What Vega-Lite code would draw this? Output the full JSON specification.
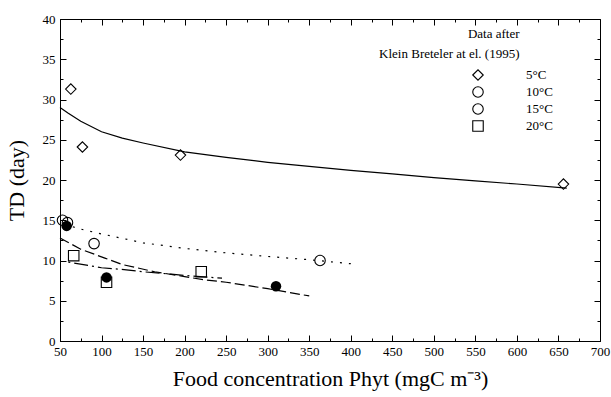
{
  "$schema": "https://vega.github.io/schema/vega-lite/v6.json",
  "width": 540,
  "height": 322,
  "autosize": {"type": "none"},
  "padding": {"left": 60, "top": 19, "right": 11, "bottom": 56},
  "background": "white",
  "config": {
    "view": {"stroke": "black", "strokeWidth": 1},
    "font": "Liberation Serif",
    "axis": {"grid": false, "labelFontSize": 13, "titleFontSize": 22, "titleFontWeight": "normal"}
  },
  "datasets": {
    "pts": [
      {"series": "5°C", "phyt": 63, "td": 31.3},
      {"series": "5°C", "phyt": 77, "td": 24.1},
      {"series": "5°C", "phyt": 195, "td": 23.1},
      {"series": "5°C", "phyt": 656, "td": 19.5},
      {"series": "15°C", "phyt": 53, "td": 15.0},
      {"series": "15°C", "phyt": 59, "td": 14.7},
      {"series": "15°C", "phyt": 91, "td": 12.1},
      {"series": "15°C", "phyt": 363, "td": 10.0},
      {"series": "20°C", "phyt": 66.5, "td": 10.6},
      {"series": "20°C", "phyt": 106, "td": 7.3},
      {"series": "20°C", "phyt": 220, "td": 8.6},
      {"series": "10°C", "phyt": 58, "td": 14.3},
      {"series": "10°C", "phyt": 106, "td": 7.9},
      {"series": "10°C", "phyt": 310, "td": 6.8}
    ],
    "lns": [
      {"series": "5°C", "phyt": 50, "td": 29.0},
      {"series": "5°C", "phyt": 60, "td": 28.3},
      {"series": "5°C", "phyt": 75, "td": 27.3},
      {"series": "5°C", "phyt": 100, "td": 26.0},
      {"series": "5°C", "phyt": 125, "td": 25.2},
      {"series": "5°C", "phyt": 150, "td": 24.6},
      {"series": "5°C", "phyt": 200, "td": 23.5},
      {"series": "5°C", "phyt": 250, "td": 22.8},
      {"series": "5°C", "phyt": 300, "td": 22.2},
      {"series": "5°C", "phyt": 350, "td": 21.7},
      {"series": "5°C", "phyt": 400, "td": 21.2},
      {"series": "5°C", "phyt": 450, "td": 20.75},
      {"series": "5°C", "phyt": 500, "td": 20.3},
      {"series": "5°C", "phyt": 550, "td": 19.9},
      {"series": "5°C", "phyt": 600, "td": 19.5},
      {"series": "5°C", "phyt": 660, "td": 19.0},
      {"series": "10°C", "phyt": 55, "td": 14.5},
      {"series": "10°C", "phyt": 75, "td": 13.9},
      {"series": "10°C", "phyt": 100, "td": 13.3},
      {"series": "10°C", "phyt": 150, "td": 12.2},
      {"series": "10°C", "phyt": 200, "td": 11.5},
      {"series": "10°C", "phyt": 250, "td": 10.95},
      {"series": "10°C", "phyt": 300, "td": 10.5},
      {"series": "10°C", "phyt": 350, "td": 10.1},
      {"series": "10°C", "phyt": 400, "td": 9.6},
      {"series": "15°C", "phyt": 50, "td": 12.8},
      {"series": "15°C", "phyt": 75, "td": 11.4},
      {"series": "15°C", "phyt": 104, "td": 10.3},
      {"series": "15°C", "phyt": 125, "td": 9.5},
      {"series": "15°C", "phyt": 164, "td": 8.6},
      {"series": "15°C", "phyt": 200, "td": 8.0},
      {"series": "15°C", "phyt": 224, "td": 7.6},
      {"series": "15°C", "phyt": 250, "td": 7.3},
      {"series": "15°C", "phyt": 300, "td": 6.5},
      {"series": "15°C", "phyt": 350, "td": 5.6},
      {"series": "20°C", "phyt": 60, "td": 9.8},
      {"series": "20°C", "phyt": 100, "td": 9.1},
      {"series": "20°C", "phyt": 124, "td": 8.9},
      {"series": "20°C", "phyt": 150, "td": 8.6},
      {"series": "20°C", "phyt": 184, "td": 8.3},
      {"series": "20°C", "phyt": 200, "td": 8.15},
      {"series": "20°C", "phyt": 245, "td": 7.8}
    ]
  },
  "layer": [
    {
      "data": {"name": "pts"},
      "transform": [{"filter": "datum.series != '10°C'"}],
      "mark": {"type": "point", "filled": false, "color": "black", "strokeWidth": 1.1, "size": 110, "opacity": 1},
      "encoding": {
        "x": {
          "field": "phyt", "type": "quantitative",
          "scale": {"domain": [50, 700], "nice": false, "zero": false},
          "axis": {"title": "Food concentration Phyt (mgC m⁻³)", "values": [50,100,150,200,250,300,350,400,450,500,550,600,650,700], "tickSize": -6, "tickColor": "black", "domainColor": "black", "labelColor": "black", "titleColor": "black", "labelPadding": 10, "titlePadding": 10, "labelFlush": false, "labelOverlap": false}
        },
        "y": {
          "field": "td", "type": "quantitative",
          "scale": {"domain": [0, 40], "nice": false, "zero": false},
          "axis": {"title": "TD (day)", "values": [0,5,10,15,20,25,30,35,40], "tickSize": -6, "tickColor": "black", "domainColor": "black", "labelColor": "black", "titleColor": "black", "labelPadding": 11, "titlePadding": 14, "labelFlush": false, "labelOverlap": false}
        },
        "shape": {
          "field": "series", "type": "nominal",
          "scale": {"domain": ["5°C", "10°C", "15°C", "20°C"], "range": ["diamond", "circle", "circle", "square"]},
          "legend": {"orient": "none", "legendX": 411.5, "legendY": 49.5, "title": null, "padding": 0, "symbolSize": 110, "symbolStrokeWidth": 1.1, "labelFontSize": 13, "labelColor": "black", "labelOffset": 41.5, "rowPadding": 2}
        }
      }
    },
    {
      "data": {"name": "lns"},
      "transform": [{"filter": "datum.series == '5°C'"}],
      "mark": {"type": "line", "color": "black", "strokeWidth": 1.2},
      "encoding": {
        "x": {
          "field": "phyt", "type": "quantitative",
          "scale": {"domain": [50, 700], "nice": false, "zero": false},
          "axis": {"orient": "top", "labels": false, "domain": false, "values": [50,100,150,200,250,300,350,400,450,500,550,600,650,700], "tickSize": -6, "tickColor": "black",
            "title": ["Data after", "Klein Breteler at el. (1995)"], "titleColor": "black", "titleFontSize": 13, "titleAlign": "right", "titleAnchor": "end", "titleAngle": 0, "titleBaseline": "alphabetic", "titleX": 459, "titleY": 18, "titleLineHeight": 20}
        },
        "y": {
          "field": "td", "type": "quantitative",
          "scale": {"domain": [0, 40], "nice": false, "zero": false},
          "axis": {"orient": "right", "title": null, "labels": false, "domain": false, "values": [0,5,10,15,20,25,30,35,40], "tickSize": -6, "tickColor": "black"}
        }
      }
    },
    {
      "data": {"name": "lns"},
      "transform": [{"filter": "datum.series == '10°C'"}],
      "mark": {"type": "line", "color": "black", "strokeWidth": 1.2, "strokeDash": [2, 7]},
      "encoding": {
        "x": {
          "field": "phyt", "type": "quantitative",
          "scale": {"domain": [50, 700], "nice": false, "zero": false},
          "axis": {"orient": "bottom", "title": null, "labels": false, "domain": false, "values": [75,125,175,225,275,325,375,425,475,525,575,625,675], "tickSize": -3, "tickColor": "black"}
        },
        "y": {
          "field": "td", "type": "quantitative",
          "scale": {"domain": [0, 40], "nice": false, "zero": false},
          "axis": {"orient": "left", "title": null, "labels": false, "domain": false, "values": [2.5,7.5,12.5,17.5,22.5,27.5,32.5,37.5], "tickSize": -3, "tickColor": "black"}
        }
      }
    },
    {
      "data": {"name": "lns"},
      "transform": [{"filter": "datum.series == '15°C'"}],
      "mark": {"type": "line", "color": "black", "strokeWidth": 1.2, "strokeDash": [10, 4]},
      "encoding": {
        "x": {
          "field": "phyt", "type": "quantitative",
          "scale": {"domain": [50, 700], "nice": false, "zero": false},
          "axis": {"orient": "top", "title": null, "labels": false, "domain": false, "values": [75,125,175,225,275,325,375,425,475,525,575,625,675], "tickSize": -3, "tickColor": "black"}
        },
        "y": {
          "field": "td", "type": "quantitative",
          "scale": {"domain": [0, 40], "nice": false, "zero": false},
          "axis": {"orient": "right", "title": null, "labels": false, "domain": false, "values": [2.5,7.5,12.5,17.5,22.5,27.5,32.5,37.5], "tickSize": -3, "tickColor": "black"}
        }
      }
    },
    {
      "data": {"name": "lns"},
      "transform": [{"filter": "datum.series == '20°C'"}],
      "mark": {"type": "line", "color": "black", "strokeWidth": 1.2, "strokeDash": [2, 4, 14, 4]},
      "encoding": {
        "x": {"field": "phyt", "type": "quantitative", "scale": {"domain": [50, 700], "nice": false, "zero": false}, "axis": null},
        "y": {"field": "td", "type": "quantitative", "scale": {"domain": [0, 40], "nice": false, "zero": false}, "axis": null}
      }
    },
    {
      "data": {"name": "pts"},
      "transform": [{"filter": "datum.series == '10°C'"}],
      "mark": {"type": "point", "filled": true, "color": "black", "size": 110, "opacity": 1},
      "encoding": {
        "x": {"field": "phyt", "type": "quantitative", "scale": {"domain": [50, 700], "nice": false, "zero": false}, "axis": null},
        "y": {"field": "td", "type": "quantitative", "scale": {"domain": [0, 40], "nice": false, "zero": false}, "axis": null},
        "shape": {"field": "series", "type": "nominal", "legend": null}
      }
    }
  ],
  "resolve": {
    "axis": {"x": "independent", "y": "independent"}
  }
}
